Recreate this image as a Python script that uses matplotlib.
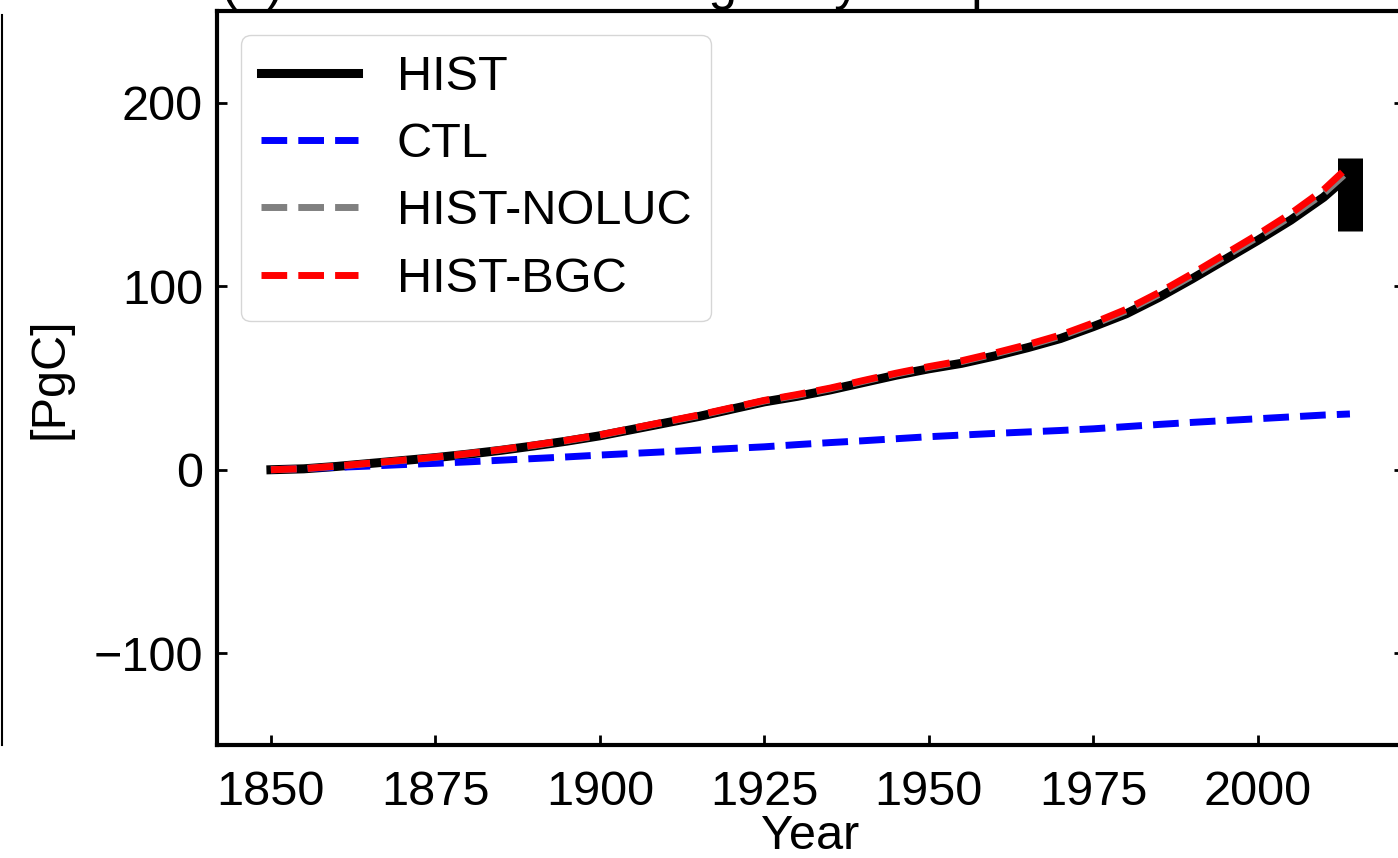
import numpy as np
import matplotlib
matplotlib.use('Agg')
import matplotlib.pyplot as plt
from matplotlib.lines import Line2D

plt.rcParams['font.family'] = ['Liberation Sans', 'DejaVu Sans']

# cumulative carbon (PgC)
years = [1850, 1855, 1860, 1865, 1870, 1875, 1880, 1885, 1890, 1895,
         1900, 1905, 1910, 1915, 1920, 1925, 1930, 1935, 1940, 1945,
         1950, 1955, 1960, 1965, 1970, 1975, 1980, 1985, 1990, 1995,
         2000, 2005, 2010, 2014]

hist = [0, 0.5, 1.8, 3.4, 5.0, 6.6, 8.5, 10.6, 13.0, 15.6,
        18.5, 22.0, 25.5, 29.0, 33.0, 37.0, 40.0, 43.5, 47.5, 51.5,
        55.0, 58.0, 62.0, 66.5, 71.5, 78.0, 85.0, 94.0, 104.0, 114.5,
        125.0, 136.0, 148.5, 161.0]

ctl = [0, 0.6, 1.3, 2.0, 2.8, 3.5, 4.3, 5.2, 6.1, 7.0,
       8.0, 8.9, 9.8, 10.7, 11.6, 12.5, 13.7, 14.8, 15.8, 16.9,
       18.0, 18.9, 19.8, 20.6, 21.4, 22.3, 23.5, 24.7, 25.8, 26.8,
       27.8, 28.8, 29.8, 30.4]

hist_noluc = [0, 0.6, 1.9, 3.5, 5.1, 6.8, 8.7, 10.9, 13.3, 15.9,
              18.8, 22.4, 26.0, 29.5, 33.5, 37.5, 40.6, 44.1, 48.2, 52.2,
              55.8, 59.0, 63.1, 67.6, 72.7, 79.2, 86.5, 95.6, 105.6, 116.2,
              126.8, 138.0, 150.6, 163.5]

hist_bgc = [0, 0.6, 2.0, 3.6, 5.2, 6.9, 8.8, 11.0, 13.5, 16.1,
            19.0, 22.6, 26.2, 29.8, 33.8, 37.8, 41.0, 44.5, 48.6, 52.6,
            56.2, 59.4, 63.6, 68.2, 73.4, 80.0, 87.4, 96.6, 106.8, 117.5,
            128.2, 139.6, 152.6, 166.0]

# observation based range at the end of the period
obs_year = 2014
obs_low = 130
obs_high = 170

fig = plt.figure(figsize=(13.98, 8.58), dpi=100)
ax = fig.add_axes([0.1552, 0.1317, 0.849, 0.8555])

ax.vlines(obs_year, obs_low, obs_high, colors='k', linewidth=18)

ax.plot(years, hist, color='k', linewidth=6.5, label='HIST')
ax.plot(years, ctl, color='b', linestyle='--', linewidth=5, label='CTL')
ax.plot(years, hist_noluc, color='gray', linestyle='--', linewidth=5, label='HIST-NOLUC')
ax.plot(years, hist_bgc, color='r', linestyle='--', linewidth=5, label='HIST-BGC')

ax.set_xlim(1841.8, 2022.2)
ax.set_ylim(-150, 250)
ax.set_xticks([1850, 1875, 1900, 1925, 1950, 1975, 2000])
ax.set_yticks([-100, 0, 100, 200])

for s in ax.spines.values():
    s.set_linewidth(3)
ax.tick_params(axis='both', direction='in', length=7, width=2, labelsize=35)
ax.tick_params(axis='y', right=True, pad=10)
ax.tick_params(axis='x', pad=18)

ax.set_xlabel('Year', fontsize=35, labelpad=-1)
ax.set_ylabel('[PgC]', fontsize=35, labelpad=15)

ax.legend(loc='upper left', fontsize=35, handlelength=2.0, borderpad=0.4,
          labelspacing=0.46, fancybox=True, edgecolor='0.8')

# title of the panel, mostly above the cropped figure edge
fig.text(0.158, 1.001, '(a) Land carbon changes by component', fontsize=37,
         ha='left', va='baseline')

# right spine of the neighbouring panel
fig.add_artist(Line2D([0.0015, 0.0015], [0.1317, 0.982], transform=fig.transFigure,
                      color='k', linewidth=1.5))

fig.savefig('out.png', dpi=100)
